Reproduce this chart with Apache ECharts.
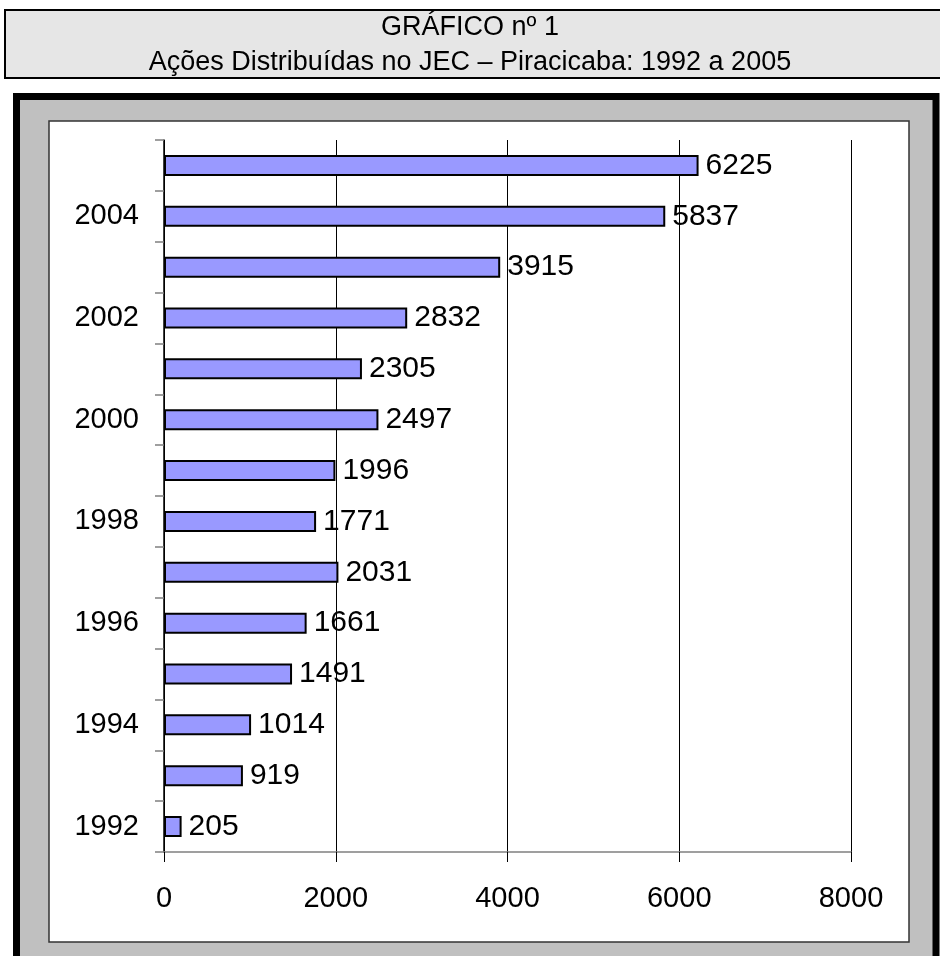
<!DOCTYPE html>
<html>
<head>
<meta charset="utf-8">
<script src="https://cdn.jsdelivr.net/npm/echarts@6/dist/echarts.min.js"></script>
<style>
  html, body { margin: 0; padding: 0; background: #fff; }
  #chart { width: 940px; height: 956px; }
</style>
</head>
<body>
<div id="chart"></div>
<script>
const years = ["1992", "1993", "1994", "1995", "1996", "1997", "1998",
  "1999", "2000", "2001", "2002", "2003", "2004", "2005"];
const acoes = [205, 919, 1014, 1491, 1661, 2031, 1771,
  1996, 2497, 2305, 2832, 3915, 5837, 6225];
const xTicks = [0, 2000, 4000, 6000, 8000];
const titleLines = ["GRÁFICO nº 1", "Ações Distribuídas no JEC – Piracicaba: 1992 a 2005"];

const font = "'Liberation Sans', Arial, sans-serif";

var myChart = echarts.init(document.getElementById("chart"));
var option = {
  animation: false,
  graphic: [
    {
      type: "rect",
      z: -10,
      shape: { x: 5, y: 10, width: 950, height: 68 },
      style: { fill: "#e6e6e6", stroke: "#000", lineWidth: 2 },
    },
    {
      type: "text",
      z: 10,
      x: 470,
      y: 28,
      style: {
        text: titleLines[0],
        font: "27px " + font,
        fill: "#000",
        textAlign: "center",
        textVerticalAlign: "middle",
      },
    },
    {
      type: "text",
      z: 10,
      x: 470,
      y: 63,
      style: {
        text: titleLines[1],
        font: "27px " + font,
        fill: "#000",
        textAlign: "center",
        textVerticalAlign: "middle",
      },
    },
    {
      type: "rect",
      z: -10,
      shape: { x: 16.5, y: 96.5, width: 919.5, height: 880 },
      style: { fill: "#c0c0c0", stroke: "#000", lineWidth: 7 },
    },
    {
      type: "rect",
      z: -9,
      shape: { x: 49, y: 121, width: 860, height: 821 },
      style: { fill: "#fff", stroke: "#333", lineWidth: 1.5 },
    },
  ],
  grid: {
    left: 164,
    right: 89,
    top: 140,
    bottom: 104,
  },
  xAxis: {
    type: "value",
    min: xTicks[0],
    max: xTicks[xTicks.length - 1],
    interval: 2000,
    axisLine: { show: true, lineStyle: { color: "#808080", width: 1.5 } },
    axisTick: { show: true, length: 10, lineStyle: { color: "#000" } },
    axisLabel: {
      fontFamily: font,
      fontSize: 29,
      color: "#000",
      margin: 32,
      formatter: (v) => String(v),
    },
    splitLine: { show: true, lineStyle: { color: "#000", width: 1 } },
  },
  yAxis: {
    type: "category",
    data: years,
    axisLine: { show: true, lineStyle: { color: "#000", width: 1.5 } },
    axisTick: { show: true, interval: 0, length: 9, lineStyle: { color: "#808080", width: 1.5 } },
    axisLabel: { interval: 1, fontFamily: font, fontSize: 29, color: "#000", margin: 25 },
  },
  series: [
    {
      name: "Ações",
      type: "bar",
      data: acoes,
      barWidth: 21,
      itemStyle: { color: "#9999ff", borderColor: "#000", borderWidth: 2 },
      label: {
        show: true,
        position: "right",
        distance: 7,
        fontFamily: font,
        fontSize: 30,
        color: "#000",
      },
    },
  ],
};

option && myChart.setOption(option);
</script>
</body>
</html>
